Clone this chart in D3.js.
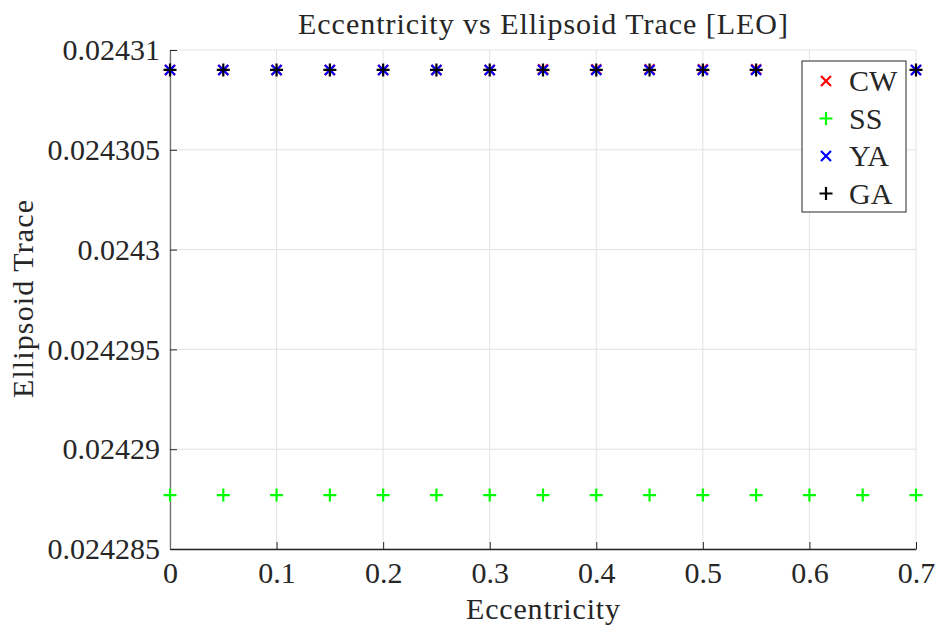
<!DOCTYPE html>
<html><head><meta charset="utf-8">
<script src="https://cdn.jsdelivr.net/npm/d3@7"></script>
<style>body{margin:0;background:#fff}svg text{font-family:"Liberation Serif","Times New Roman",serif;fill:#262626}</style>
</head><body><svg id="c" width="939" height="630"></svg>
<script>
const ecc = [0,0.05,0.1,0.15,0.2,0.25,0.3,0.35,0.4,0.45,0.5,0.55,0.6,0.65,0.7];
const CW = [0.024309,0.024309,0.024309,0.024309,0.024309,0.024309,0.024309,0.02430903,0.02430903,0.02430903,0.02430903,0.02430903,0.024309,0.024309,0.024309];
const SS = [0.0242877,0.0242877,0.0242877,0.0242877,0.0242877,0.0242877,0.0242877,0.0242877,0.0242877,0.0242877,0.0242877,0.0242877,0.0242877,0.0242877,0.0242877];
const YA = [0.024309,0.024309,0.024309,0.024309,0.024309,0.024309,0.024309,0.024309,0.024309,0.024309,0.024309,0.024309,0.024309,0.024309,0.024309];
const GA = [0.024309,0.024309,0.024309,0.024309,0.024309,0.024309,0.024309,0.024309,0.024309,0.024309,0.024309,0.024309,0.024309,0.024309,0.024309];
const xTicks = [0,0.1,0.2,0.3,0.4,0.5,0.6,0.7];
const yTicks = [0.024285,0.02429,0.024295,0.0243,0.024305,0.02431];
const yTickLabels = ["0.024285","0.02429","0.024295","0.0243","0.024305","0.02431"];
const seriesNames = ["CW","SS","YA","GA"];
const seriesColors = ["#ff0000","#00ff00","#0000ff","#000000"];
const seriesMarkers = ["x","+","x","+"];
const seriesData = [CW,SS,YA,GA];

const svg = d3.select("#c");
const L=170,R=916,T=50,B=549;
const x = d3.scaleLinear().domain([0,0.7]).range([L,R]);
const y = d3.scaleLinear().domain([0.024285,0.02431]).range([B,T]);
const FS=30;

// grid
const g = svg.append("g");
g.selectAll(".gx").data(xTicks).join("line").attr("x1",d=>x(d)).attr("x2",d=>x(d)).attr("y1",B).attr("y2",T).attr("stroke","#e3e3e3").attr("stroke-width",1);
g.selectAll(".gy").data(yTicks).join("line").attr("y1",d=>y(d)).attr("y2",d=>y(d)).attr("x1",L).attr("x2",R).attr("stroke","#e3e3e3").attr("stroke-width",1);

// axes
const xa = svg.append("g").attr("transform",`translate(0,${B})`).call(d3.axisBottom(x).tickValues(xTicks).tickFormat(d3.format("")).tickSizeInner(-7).tickSizeOuter(0).tickPadding(13));
const ya = svg.append("g").attr("transform",`translate(${L},0)`).call(d3.axisLeft(y).tickValues(yTicks).tickFormat((d,i)=>yTickLabels[i]).tickSizeInner(-7).tickSizeOuter(0).tickPadding(10));
[xa,ya].forEach(a=>{a.select(".domain").attr("stroke","#262626").attr("stroke-width",1.3);a.selectAll(".tick line").attr("stroke","#262626").attr("stroke-width",1);a.selectAll("text").attr("font-size",FS).attr("font-family",null).style("fill","#262626");});
ya.select(".domain").attr("stroke","#707070");

function marker(sel,type,color){
  if(type==="x"){
    const s=5;
    sel.append("path").attr("d",`M${-s},${-s}L${s},${s}M${-s},${s}L${s},${-s}`).attr("stroke",color).attr("stroke-width",2.2).attr("fill","none");
  } else {
    const s=6.5;
    sel.append("path").attr("d",`M${-s},0L${s},0M0,${-s}L0,${s}`).attr("stroke",color).attr("stroke-width",2.2).attr("fill","none");
  }
}
seriesData.forEach((data,si)=>{
  const gs = svg.append("g");
  data.forEach((v,i)=>{
    const m = gs.append("g").attr("transform",`translate(${x(ecc[i])},${y(v)})`);
    marker(m,seriesMarkers[si],seriesColors[si]);
  });
});

// legend
const lg = svg.append("g");
lg.append("rect").attr("x",802).attr("y",61).attr("width",104).attr("height",151).attr("fill","#fff").attr("stroke","#262626").attr("stroke-width",1);
seriesNames.forEach((n,i)=>{
  const yy = 81 + i*37.5;
  const m = lg.append("g").attr("transform",`translate(826,${yy})`);
  marker(m,seriesMarkers[i],seriesColors[i]);
  lg.append("text").attr("x",849).attr("y",yy+10).attr("font-size",FS).text(n);
});

// labels
svg.append("text").attr("x",543).attr("y",34).attr("text-anchor","middle").attr("font-size",FS).attr("textLength",490).attr("lengthAdjust","spacing").text("Eccentricity vs Ellipsoid Trace [LEO]");
svg.append("text").attr("x",543).attr("y",619).attr("text-anchor","middle").attr("font-size",FS).attr("textLength",154).attr("lengthAdjust","spacing").text("Eccentricity");
svg.append("text").attr("transform","translate(33,299) rotate(-90)").attr("text-anchor","middle").attr("font-size",FS).attr("textLength",198).attr("lengthAdjust","spacing").text("Ellipsoid Trace");
</script></body></html>
